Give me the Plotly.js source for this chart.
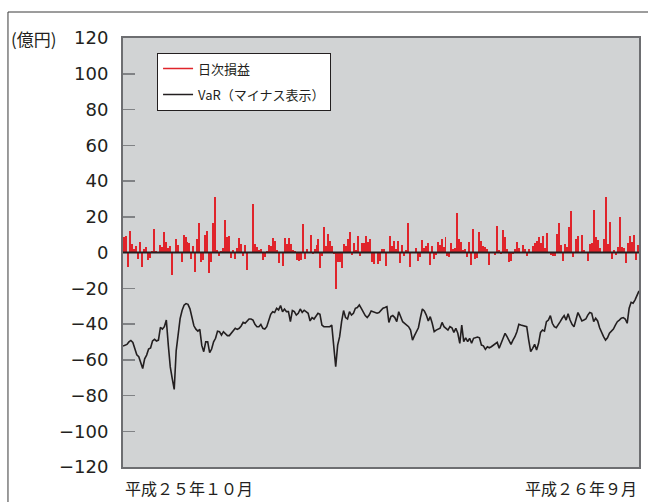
<!DOCTYPE html>
<html>
<head>
<meta charset="utf-8">
<script src="https://cdn.plot.ly/plotly-3.0.1.min.js"></script>
<style>html,body{margin:0;padding:0;background:#fff;}#chart{width:648px;height:502px;}</style>
</head>
<body>
<div id="chart"></div>
<script>
// 日次損益 (億円) — one value per business day
const dailyPL = [
  8.6, 9.2, -8, 12, 4.7, 2, 3.5, -3.7, 5.8, -8,
  1.9, 3, -4, -3.2, 0.7, 13, 0.7, 0.5, 4, 3,
  11.4, 5.8, 2.4, 3.5, -12.7, 0.4, 7.5, 4.1, 0.3, -5.4,
  9.7, 8.6, 5.8, 5.2, -3.7, 3.5, -11, 7.5, 16.4, -5.4,
  -4.3, 9.7, 12, -11.6, -5.4, 16.4, 31, 1.3, -2, 0.7,
  2.4, 18, 8.6, 9.2, -3.2, 1.3, -3.7, 2.4, 8, 4.7,
  -2, 4.1, -9.9, 0.3, -0.3, 27, 4.7, 3, 1.3, 1.9,
  -4.3, -2.6, 0.7, 4.1, 3.5, 8, 6.4, 1.3, -6, -0.5,
  -7.7, 8, 4.7, 8, 4.7, 1.3, 0.7, -4.3, -4.9,
  -4.3, 15.9, -3.7, 1.9, 0.5, 9.7, -1, 1.9, 4.1, 7.5,
  -8.8, -2, 14.2, 3.5, 10.3, 6.4, 3.5, -1, -20.6, -5.4,
  -5.4, -8.8, 4.7, 3.5, 7.5, 11.4, -1.5, 5.2, 1.3, 9.2,
  -2, 5.2, 5.2, 9.2, 5.8, 7.5, -5.4, -6.5, 0.3, -6.5,
  -4.9, 1.9, 1.9, -7.7, 0.3, 9.2, 3.5, 6.4, 1.9, 6.4,
  -6, 4.1, -2, 1.3, 16.4, -8.2, 0.3, -0.3, 2.4, -4.9,
  -2.6, 6.9, 2.4, 3.5, 5.2, -7.1, 3.5, -3.7, -1.5, 5.8,
  4.1, 7.5, 3, 8.6, -2, -2.6, 5.2, 1.9, 2.4, 22,
  7.5, 5.8, 1.3, 1.9,
  -2.6, 5.8, -7.1, 13, -3.7, -3.2, 11.4, 6.4, 3.5, 3,
  1.9, -7.1, 0.3, 0.3, -1.5, 14.8, 1.3, -1, 12.5, 8.6,
  1.9, -5.4, -4.9, -1, 1.9, 5.8, 2.4, 0.3, 4.1, 1.9,
  -2, 1.9, 0.3, 3.5, 5.2, 6.4, 8.6, 5.2, 9.2, 2.4,
  10.8, 0.3, -1.5, -2, -2, 10.3, 16.4, 4.1, -4.9, 4.7,
  3, 14.2, 23, -2.6, 0.3, 7.5, 9.2, 0.3, 9.7, 1.3,
  0.3, -4.9, 4.7, 5.2, 23.7, 8.6, 6.9, 2.4, 0.3, 7.5,
  31, 4.7, 17, -3.7, 1.3, -1.5, 3, 19.8, 3, 2.4,
  -6, 5.2, 9.2, 5.8, 9.7, -4.3, 4.1
];

// VaR (マイナス表示) (億円)
const varValues = [
  -52.3, -51.8, -51.4, -50, -49.2, -50.3, -53.5, -57.2, -58.3, -61.5,
  -64.9, -59.5, -57.4, -54, -53.4, -49.5, -48.6, -49.5, -49, -41.9,
  -42.8, -41.5, -37.8, -51.8, -64, -70.5, -76.6, -55, -45, -37,
  -32.5, -29.5, -28.6, -29, -31.5, -36, -41, -42.9, -44, -43,
  -52, -55.5, -50, -50, -56, -54, -50, -48, -44, -44.3,
  -46.2, -44.3, -45.2, -46.5, -46.5, -45.2, -44, -42.4, -43, -42.4,
  -41.1, -39.1, -39.6, -38.3, -37.2, -37.2, -37.8, -40.2, -41.5, -41.5,
  -40.2, -42.4, -42.8, -41.5, -38.3, -34.6, -33.1, -33.6, -31.2, -32.1,
  -29.7, -33.1, -31.6, -33.1,
  -33.1, -38.7, -32.5, -33.1, -35, -34, -31.6, -33.5, -32.3, -33.1,
  -34, -38.3, -36.4, -37.2, -35.3, -34, -34.6, -40.6, -41.5, -41.5,
  -41.1, -41.5, -40.6, -50.8, -63.9, -51.8, -47.1, -38.7, -32.5, -36.4,
  -37.2, -33.1, -35, -34, -31.2, -30.8, -29.3, -31.2, -33.5, -35.3,
  -36.4, -35, -32.7, -33.1, -33.5, -34, -33.6, -32.1, -31.2, -30.8,
  -30.3, -39.1, -35.9, -35.3, -36.4, -38.7, -33.1, -35.9, -38.7, -39.6,
  -40.6, -41.5, -43.4, -49, -46.5, -44.3, -42.1, -36.4, -31.6, -32.7,
  -35, -38.3, -35.9, -39.6, -44.3, -43.4, -42.8, -42.4, -39.1, -41.5,
  -42.4, -43.4, -41.5, -42.1, -44.7, -42.4, -45.2,
  -50.8, -40.6, -49.9, -47.7, -49.9, -48, -50.8, -48, -47.7, -47.3,
  -47.7, -51.8, -52.2, -54.2, -52.7, -53.3, -52.7, -51.8, -50.8, -50.3,
  -53.6, -50.8, -48, -45.2, -47.1, -49, -51.4, -49, -47.1, -44.3,
  -40.2, -40.6, -40.9, -40.9, -41.5, -49, -55.5, -53.6, -51.4, -54.6,
  -50.8, -44.7, -43.4, -44, -38.7, -37.8, -35.3, -39.6, -41.5, -42.1,
  -40.6, -38.7, -36.8, -35.3, -37.8, -34.3, -37.8, -40.2, -41.5, -36.8,
  -33.6, -35.9, -38.3, -37.8, -37.2, -35, -33.6, -34, -38.7, -36.8,
  -38.3, -42.1, -45.2, -47.1, -49, -47.7, -45.2, -44, -42.8, -40.6,
  -38.7, -37.8, -36.8, -36.4, -37.2, -39.6, -31.2, -27.9, -28.4, -26.5,
  -23.7, -21.5
];

const seriesNames = ['日次損益', 'VaR（マイナス表示）'];
const unitLabel = '(億円)';
const periodLabels = ['平成２５年１０月', '平成２６年９月'];
const yTickValues = [-120, -100, -80, -60, -40, -20, 0, 20, 40, 60, 80, 100, 120];

const RED = '#e0242b';
const INK = '#231f20';
const AXIS = '#6d6e71';
const CJK = '"Noto Sans CJK JP", "Noto Sans", sans-serif';

const traces = [
  {
    type: 'bar', y: dailyPL, xaxis: 'x', yaxis: 'y',
    marker: {color: RED, line: {width: 0}},
    showlegend: false, hoverinfo: 'skip'
  },
  {
    type: 'scatter', mode: 'lines', y: varValues, xaxis: 'x2', yaxis: 'y',
    line: {color: INK, width: 1.6}, showlegend: false, hoverinfo: 'skip'
  },
  // legend entries (line keys, as in the reference legend)
  {
    type: 'scatter', mode: 'lines', x: [null], y: [null], name: seriesNames[0],
    line: {color: RED, width: 1.5}, legendgroup: 'a', hoverinfo: 'skip'
  },
  {
    type: 'scatter', mode: 'lines', x: [null], y: [null], name: seriesNames[1],
    line: {color: INK, width: 1.5}, legendgroup: 'b', hoverinfo: 'skip'
  }
];

const layout = {
  width: 648, height: 502,
  margin: {l: 123, r: 9, t: 38, b: 35, pad: 0},
  paper_bgcolor: '#ffffff',
  plot_bgcolor: '#d1d3d4',
  bargap: 0,
  showlegend: true,
  legend: {
    x: 0.066, y: 0.966, xanchor: 'left', yanchor: 'top',
    bgcolor: '#ffffff', bordercolor: INK, borderwidth: 1,
    font: {family: CJK, size: 13, color: INK},
    tracegroupgap: 6, itemwidth: 30
  },
  xaxis: {
    range: [-0.5, dailyPL.length - 0.5],
    showgrid: false, zeroline: false, showticklabels: false, ticks: '',
    showline: true, mirror: true, linecolor: AXIS, linewidth: 2
  },
  xaxis2: {
    overlaying: 'x', range: [0, varValues.length - 1], visible: false
  },
  yaxis: {
    range: [-120, 120], tickvals: yTickValues,
    showgrid: false, zeroline: false,
    ticks: 'inside', ticklen: 12, tickwidth: 1.5, tickcolor: '#808285',
    ticklabelstandoff: 9,
    tickfont: {family: '"DejaVu Sans", sans-serif', size: 18, color: INK},
    showline: true, mirror: true, linecolor: AXIS, linewidth: 2
  },
  shapes: [
    {type: 'line', xref: 'paper', yref: 'y', x0: 0, x1: 1, y0: 0, y1: 0,
     line: {color: INK, width: 2}, layer: 'above'},
    // outer frame (top and left)
    {type: 'line', xref: 'paper', yref: 'paper', x0: -0.2229, x1: 1.05, y0: 1.0606, y1: 1.0606,
     line: {color: '#3a3a3a', width: 1}},
    {type: 'line', xref: 'paper', yref: 'paper', x0: -0.2229, x1: -0.2229, y0: -0.1, y1: 1.0606,
     line: {color: '#3a3a3a', width: 1}}
  ],
  annotations: [
    {text: unitLabel, xref: 'paper', yref: 'y', x: 0, y: 120, xanchor: 'right', yanchor: 'middle',
     xshift: -64, showarrow: false, font: {family: CJK, size: 17, color: INK}},
    {text: periodLabels[0], xref: 'paper', yref: 'paper', x: 0, y: 0, xanchor: 'left', yanchor: 'top',
     yshift: -7, showarrow: false, font: {family: CJK, size: 16, color: INK}},
    {text: periodLabels[1], xref: 'paper', yref: 'paper', x: 1, y: 0, xanchor: 'right', yanchor: 'top',
     yshift: -7, showarrow: false, font: {family: CJK, size: 16, color: INK}}
  ]
};

Plotly.newPlot('chart', traces, layout, {staticPlot: true, displayModeBar: false});
</script>
</body>
</html>
